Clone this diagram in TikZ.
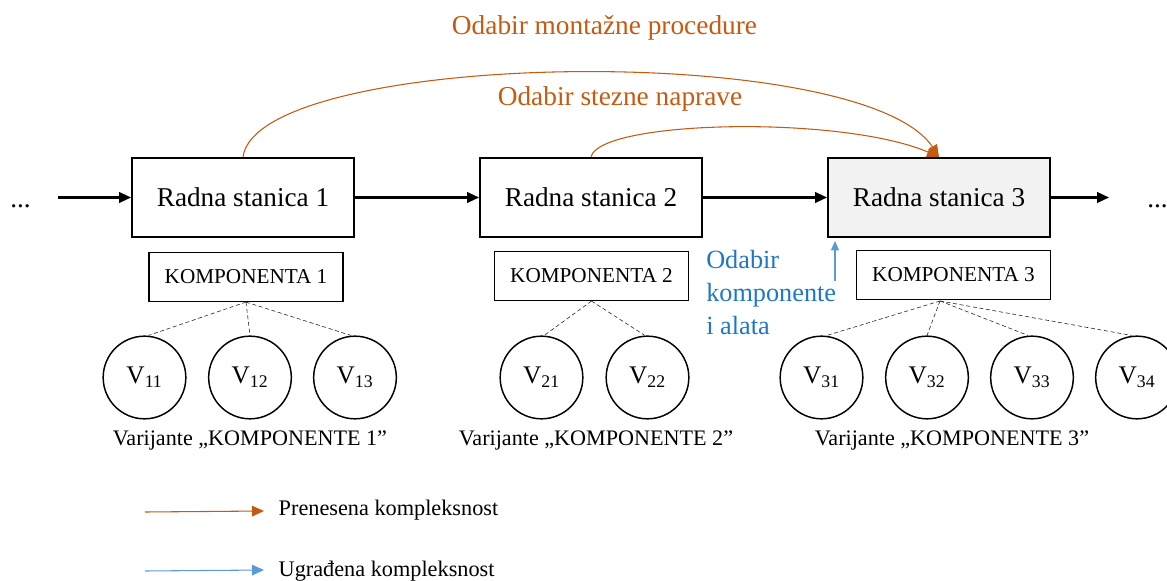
\documentclass[tikz,border=0pt]{standalone}
\usepackage{fontspec}
\setmainfont{Liberation Serif}
\usetikzlibrary{arrows.meta}
\definecolor{orng}{HTML}{C55A11}
\definecolor{blu}{HTML}{5B9BD5}
\definecolor{blutxt}{HTML}{1F77C2}
\definecolor{boxgray}{HTML}{F2F2F2}
\begin{document}
\begin{tikzpicture}[x=0.75pt,y=-0.75pt,
  station/.style={draw, line width=1.5pt, minimum width=166.5pt, minimum height=59.5pt, inner sep=0pt, font=\fontsize{20.4}{24}\selectfont},
  comp/.style={draw, line width=1.1pt, minimum width=145.5pt, minimum height=36.5pt, inner sep=0pt, font=\fontsize{15.9}{18}\selectfont},
  var/.style={draw, circle, line width=1.1pt, minimum size=62pt, inner sep=0pt, font=\fontsize{19}{22}\selectfont},
  flow/.style={-{Triangle[length=9pt,width=8pt]}, line width=1.6pt},
  link/.style={densely dashed, line width=0.45pt, black!85},
  orarrow/.style={orng, line width=0.8pt, -{Triangle[length=9pt,width=8pt]}},
  bluarrow/.style={blu, line width=0.8pt, -{Triangle[length=7pt,width=6pt]}},
  vlabel/.style={font=\fontsize{16.6}{19}\selectfont},
  legtext/.style={anchor=west, font=\fontsize{16.7}{19}\selectfont},
  dots/.style={anchor=base west, inner sep=0pt, font=\fontsize{20.4}{24}\selectfont}
]
\useasboundingbox (0,0) rectangle (1167,581);

% stations
\node[station] (box1) at (243,197.5) {Radna stanica 1};
\node[station] (box2) at (591,197.5) {Radna stanica 2};
\node[station, fill=boxgray] (box3) at (939,197.5) {Radna stanica 3};

\node[dots] (dl) at (10,208) {...};
\node[dots] (dr) at (1147,208) {...};
\coordinate (lstart) at (58,197.5);
\coordinate (rend) at (1109,197.5);
\draw[flow] (lstart) -- (box1);
\draw[flow] (box1) -- (box2);
\draw[flow] (box2) -- (box3);
\draw[flow] (box3) -- (rend);

% components
\node[comp] (k1) at (246,277) {KOMPONENTA 1};
\node[comp] (k2) at (591.5,276) {KOMPONENTA 2};
\node[comp] (k3) at (953.5,275) {KOMPONENTA 3};

% variants
\node[var] (v11) at (144.5,377.5) {V\textsubscript{11}};
\node[var] (v12) at (250,377.5) {V\textsubscript{12}};
\node[var] (v13) at (355,377.5) {V\textsubscript{13}};
\node[var] (v21) at (541.5,377.5) {V\textsubscript{21}};
\node[var] (v22) at (647.5,377.5) {V\textsubscript{22}};
\node[var] (v31) at (821.5,377.5) {V\textsubscript{31}};
\node[var] (v32) at (927,377.5) {V\textsubscript{32}};
\node[var] (v33) at (1032,377.5) {V\textsubscript{33}};
\node[var] (v34) at (1137,377.5) {V\textsubscript{34}};

\coordinate (a3) at (940,301);
\draw[link] (k1.south) -- ([xshift=3pt]v11.north);
\draw[link] (k1.south) -- (v12.north);
\draw[link] (k1.south) -- ([xshift=-3pt]v13.north);
\draw[link] (k2.south) -- ([xshift=2pt]v21.north);
\draw[link] (k2.south) -- ([xshift=-2pt]v22.north);
\draw[link] (a3) -- ([xshift=4pt]v31.north);
\draw[link] (a3) -- (v32.north);
\draw[link] (a3) -- ([xshift=-3pt]v33.north);
\draw[link] (a3) -- ([xshift=-4pt]v34.north);

\node[vlabel] (t1) at (250,440) {Varijante „KOMPONENTE 1”};
\node[vlabel] (t2) at (596,440) {Varijante „KOMPONENTE 2”};
\node[vlabel] (t3) at (952,440) {Varijante „KOMPONENTE 3”};

% transferred complexity arcs
\draw[orarrow] (box1.north) .. controls (258,50) and (862,40) .. (box3.north);
\draw[orarrow] (box2.north) .. controls (600,120) and (842,115) .. (box3.north);
\node[text=orng, font=\fontsize{20.5}{24}\selectfont] (o1) at (604.5,27.5) {Odabir montažne procedure};
\node[text=orng, font=\fontsize{20.5}{24}\selectfont] (o2) at (620,99) {Odabir stezne naprave};

% embedded complexity
\coordinate (bs) at (835,281);
\coordinate (be) at (835,241);
\draw[bluarrow] (bs) -- (be);
\node[anchor=north west, align=left, inner sep=0pt, text=blutxt, font=\fontsize{19.7}{24.75}\selectfont] (bt) at (706,250) {Odabir\\komponente\\i alata};

% legend
\coordinate (l1s) at (145,512);
\coordinate (l1e) at (264,511);
\coordinate (l2s) at (145,571);
\coordinate (l2e) at (264,570);
\draw[orarrow, line width=0.8pt] (l1s) -- (l1e);
\draw[bluarrow, -{Triangle[length=9pt,width=8pt]}] (l2s) -- (l2e);
\node[legtext] (lg1) at (274,510) {Prenesena kompleksnost};
\node[legtext] (lg2) at (274,571) {Ugrađena kompleksnost};
\end{tikzpicture}
\end{document}
